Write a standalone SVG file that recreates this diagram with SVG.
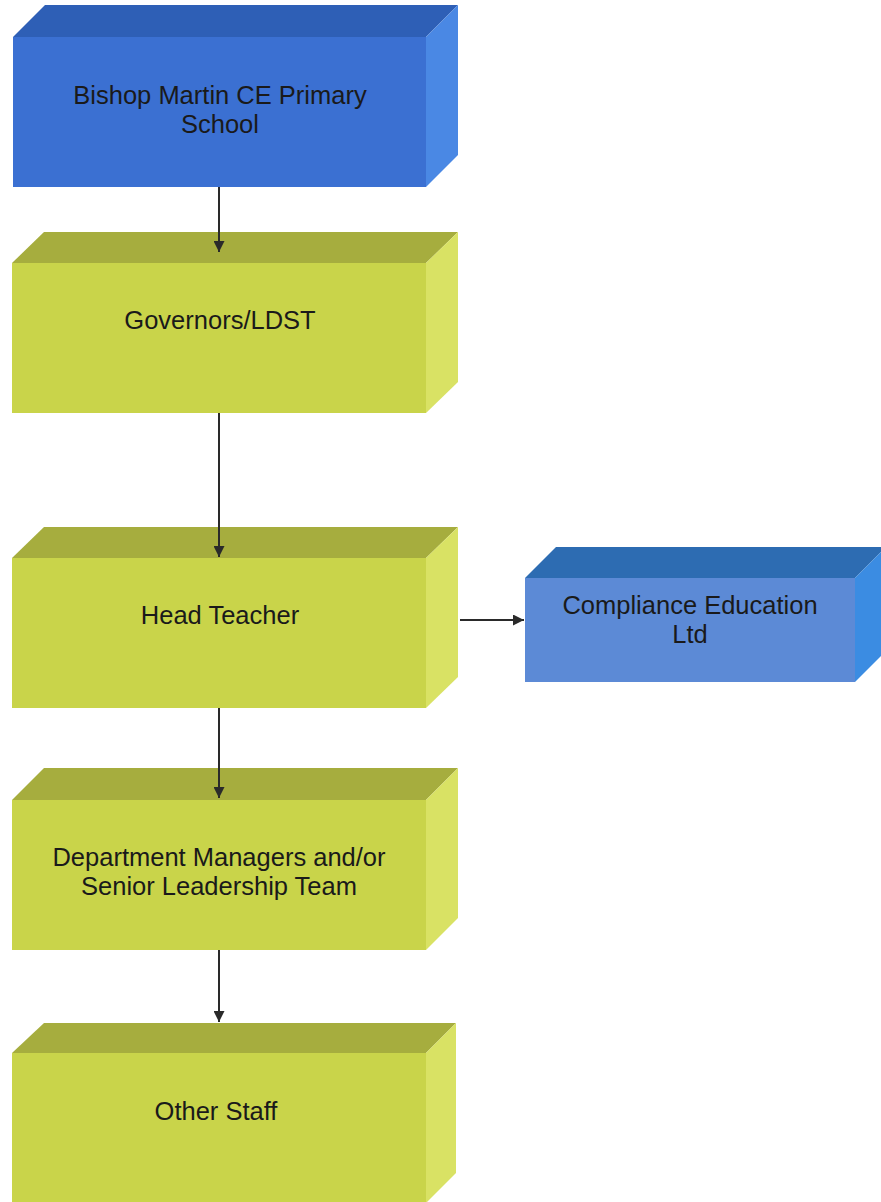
<svg xmlns="http://www.w3.org/2000/svg" width="881" height="1202" viewBox="0 0 881 1202">
<defs>
<style>
.t{font-family:"Liberation Sans",Arial,sans-serif;font-size:25.5px;fill:#1a1a1a;text-anchor:middle}
.bf{fill:#3b70d2}.bt{fill:#2e5fb6}.bs{fill:#4a88e4}
.cf{fill:#5c8ad6}.ct{fill:#2d6cb2}.cs{fill:#3b8ce2}
.yf{fill:#c9d44a}.yt{fill:#a6ad3e}.ys{fill:#d9e264}
.c{stroke:#2a2a2a;stroke-width:2;fill:none}
</style>
<marker id="ah" viewBox="0 0 10 10" refX="10" refY="5" markerWidth="12" markerHeight="11" markerUnits="userSpaceOnUse" orient="auto"><path d="M0,0L10,5L0,10z" fill="#2a2a2a"/></marker>
</defs>
<rect width="881" height="1202" fill="#ffffff"/>
<g id="n1">
<polygon class="bt" points="13,37 45,5 458,5 426,37"/>
<polygon class="bs" points="426,37 458,5 458,155 426,187"/>
<rect class="bf" x="13" y="37" width="413" height="150"/>
<text class="t" x="220" y="104">Bishop Martin CE Primary</text>
<text class="t" x="220" y="133">School</text>
</g>
<g id="n2">
<polygon class="yt" points="12,263 44,232 458,232 426,263"/>
<polygon class="ys" points="426,263 458,232 458,382 426,413"/>
<rect class="yf" x="12" y="263" width="414" height="150"/>
<text class="t" x="220" y="329">Governors/LDST</text>
</g>
<g id="n3">
<polygon class="yt" points="12,558 44,527 458,527 426,558"/>
<polygon class="ys" points="426,558 458,527 458,677 426,708"/>
<rect class="yf" x="12" y="558" width="414" height="150"/>
<text class="t" x="220" y="624">Head Teacher</text>
</g>
<g id="n4">
<polygon class="ct" points="525,578 556,547 886,547 855,578"/>
<polygon class="cs" points="855,578 886,547 886,651 855,682"/>
<rect class="cf" x="525" y="578" width="330" height="104"/>
<text class="t" x="690" y="614">Compliance Education</text>
<text class="t" x="690" y="643">Ltd</text>
</g>
<g id="n5">
<polygon class="yt" points="12,800 44,768 458,768 426,800"/>
<polygon class="ys" points="426,800 458,768 458,918 426,950"/>
<rect class="yf" x="12" y="800" width="414" height="150"/>
<text class="t" x="219" y="866">Department Managers and/or</text>
<text class="t" x="219" y="895">Senior Leadership Team</text>
</g>
<g id="n6">
<polygon class="yt" points="12,1053 44,1023 456,1023 426,1053"/>
<polygon class="ys" points="426,1053 456,1023 456,1173 426,1203"/>
<rect class="yf" x="12" y="1053" width="414" height="150"/>
<text class="t" x="216" y="1120">Other Staff</text>
</g>
<g id="connectors">
<line class="c" x1="219" y1="187" x2="219" y2="252" marker-end="url(#ah)"/>
<line class="c" x1="219" y1="413" x2="219" y2="557" marker-end="url(#ah)"/>
<line class="c" x1="460" y1="620" x2="524" y2="620" marker-end="url(#ah)"/>
<line class="c" x1="219" y1="708" x2="219" y2="798" marker-end="url(#ah)"/>
<line class="c" x1="219" y1="950" x2="219" y2="1022" marker-end="url(#ah)"/>
</g>
</svg>
